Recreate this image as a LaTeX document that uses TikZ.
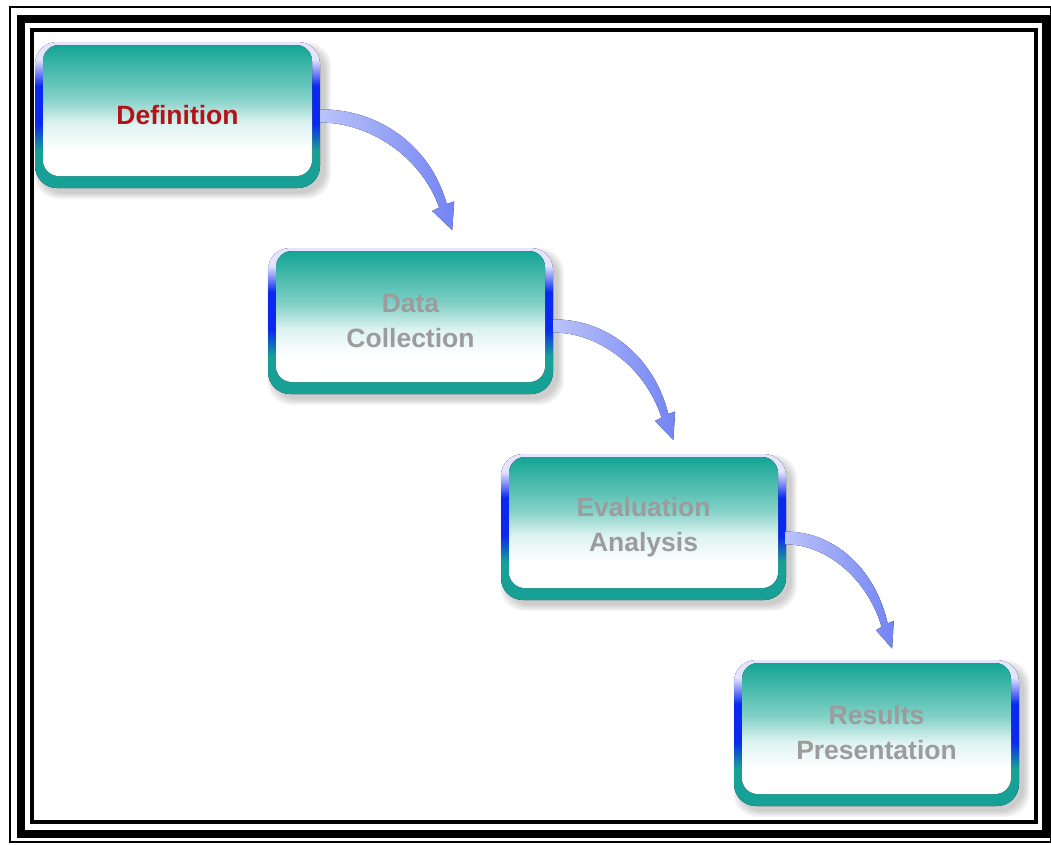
\documentclass[tikz,border=0pt]{standalone}
\usepackage{fontspec}
\setmainfont{Liberation Sans}
\usetikzlibrary{calc}
\definecolor{rimteal}{HTML}{17A096}
\definecolor{rimblue}{HTML}{0A28F0}
\definecolor{rimlight}{HTML}{E4E4FF}
\definecolor{fillteal}{HTML}{14A595}
\definecolor{fillmid}{HTML}{80D0C6}
\definecolor{filllight}{HTML}{DDF3F0}
\definecolor{defred}{HTML}{B3121B}
\definecolor{labgray}{HTML}{9C9C9C}
\definecolor{arrowlight}{HTML}{BAC3F9}
\definecolor{arrowdark}{HTML}{7384F5}
\definecolor{shadowgray}{HTML}{404040}
\pgfdeclareverticalshading{rimshade}{100bp}{color(0bp)=(rimteal); color(25bp)=(rimteal); color(38bp)=(rimteal); color(47bp)=(rimblue); color(60bp)=(rimblue); color(69bp)=(rimlight); color(75bp)=(rimlight); color(100bp)=(rimlight)}
\pgfdeclareverticalshading{fillshade}{100bp}{color(0bp)=(white); color(25bp)=(white); color(35bp)=(white); color(45bp)=(filllight); color(55bp)=(fillmid); color(75bp)=(fillteal); color(100bp)=(fillteal)}
\tikzset{
  stagelabel/.style={font=\bfseries\fontsize{26.5}{35}\selectfont, align=center,
    minimum width=285pt, minimum height=146pt, inner sep=0pt},
  framethin/.style={line width=2pt},
  framethick/.style={line width=8pt},
  framemid/.style={line width=4pt},
  flowfill/.style={left color=arrowlight, right color=arrowdark}
}
\newcommand\stagebox[5]{%
  \foreach \k in {1,...,7}{\fill[shadowgray, opacity=0.04, rounded corners=24pt] (#2+6-\k,#3+7-\k) rectangle (#2+289+\k,#3+150+\k);}
  \fill[shading=rimshade, rounded corners=22pt] (#2,#3) rectangle (#2+285,#3+146);
  \fill[shading=fillshade, rounded corners=16pt] (#2+8,#3+3) rectangle (#2+277,#3+134);
  \node[stagelabel, text=#5] (#1) at (#2+142.5,#3+73) {#4};
}
\newcommand\flowarrow[3]{%
  \begin{scope}[shift={#1}, xscale=#2, yscale=#3]
    \fill[flowfill] (0,-6.5) .. controls (56,-7.5) and (110,28) .. (126.5,88) -- (134,85.5) -- (132,114) -- (112,95) -- (119,91.5) .. controls (101,41) and (50,6.5) .. (0,6.5) -- cycle;
  \end{scope}}
\begin{document}
\begin{tikzpicture}[x=1pt, y=-1pt]
\useasboundingbox (0,0) rectangle (1051,844);
\fill[white] (0,0) rectangle (1051,844);
% frame
\draw[framethin] (10,7) rectangle (1050.5,842);
\draw[framethick] (21,19) rectangle (1045.5,833.5);
\draw[framemid] (32,30) rectangle (1036,822);
% stages
\stagebox{b1}{35}{42}{Definition}{defred}
\stagebox{b2}{268}{248}{Data\\Collection}{labgray}
\stagebox{b3}{501}{454}{Evaluation\\Analysis}{labgray}
\stagebox{b4}{734}{660}{Results\\Presentation}{labgray}
% arrows
\flowarrow{($(b1.east)+(0,1)$)}{1}{1}
\flowarrow{($(b2.east)+(0,5)$)}{0.91}{1}
\flowarrow{($(b3.east)+(-1,11)$)}{0.81}{0.97}
\end{tikzpicture}
\end{document}
